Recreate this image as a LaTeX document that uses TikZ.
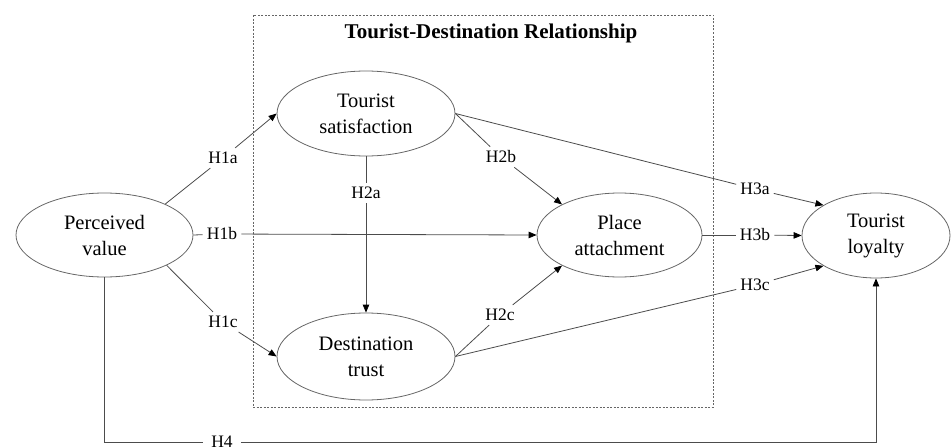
\documentclass[tikz,border=0pt]{standalone}
\usepackage{fontspec}
\setmainfont{Liberation Serif}
\usetikzlibrary{shapes.geometric,arrows.meta}
\tikzset{
  construct/.style={ellipse, draw=black!60, line width=0.8pt, inner sep=0pt, align=center,
    font=\fontsize{20.5}{26}\selectfont},
  hyp/.style={inner sep=4pt, font=\fontsize{17.5}{20}\selectfont},
  link/.style={draw=black!70, line width=0.8pt},
  arr/.style={link, -{Triangle[length=8pt,width=6.5pt,color=black]}},
  group/.style={draw=black!60, line width=0.7pt, dash pattern=on 2pt off 1.5pt}
}
\begin{document}
\begin{tikzpicture}[x=1pt,y=-1pt]
\useasboundingbox (0,0) rectangle (951,447);
% group box
\draw[group] (253,15) rectangle (713,407);
\node[font=\fontsize{21}{24}\selectfont\bfseries] (title) at (491,33) {Tourist-Destination Relationship};
% constructs
\node[construct, minimum width=177pt, minimum height=84pt] (pv) at (104.5,235) {Perceived\\value};
\node[construct, minimum width=178pt, minimum height=85pt] (ts) at (366,113.5) {Tourist\\satisfaction};
\node[construct, minimum width=178pt, minimum height=87pt] (dt) at (366,356.5) {Destination\\trust};
\node[construct, minimum width=165pt, minimum height=84pt] (pa) at (619.5,235) {Place\\attachment};
\node[construct, minimum width=148pt, minimum height=85pt] (tl) at (876,235.5) {Tourist\\loyalty};
% hypothesis labels
\node[hyp] (h1a) at (223,158) {H1a};
\node[hyp] (h1b) at (222,234) {H1b};
\node[hyp] (h1c) at (223,322) {H1c};
\node[hyp] (h2a) at (366,193) {H2a};
\node[hyp] (h2b) at (501,157) {H2b};
\node[hyp] (h2c) at (500,315) {H2c};
\node[hyp] (h3a) at (755,189) {H3a};
\node[hyp] (h3b) at (755,235) {H3b};
\node[hyp] (h3c) at (755,285) {H3c};
\node[hyp, inner xsep=8pt] (h4) at (222,442) {H4};
% connectors
\draw[link] (pv.27) -- (h1a);
\draw[arr] (h1a) -- (ts.west);
\draw[link] (pv.east) -- (h1b);
\draw[arr] (h1b) -- (pa.west);
\draw[link] (pv.-26) -- (h1c);
\draw[arr] (h1c) -- (dt.west);
\draw[link] (ts.south) -- (h2a);
\draw[arr] (h2a) -- (dt.north);
\draw[link] (ts.east) -- (h2b);
\draw[arr] (h2b) -- (pa.152);
\draw[link] (dt.east) -- (h2c);
\draw[arr] (h2c) -- (pa.208);
\draw[link] (ts.east) -- (h3a);
\draw[arr] (h3a) -- (tl.150);
\draw[link] (pa.east) -- (h3b);
\draw[arr] (h3b) -- (tl.west);
\draw[link] (dt.east) -- (h3c);
\draw[arr] (h3c) -- (tl.210);
\draw[link] (pv.south) |- (h4);
\draw[arr] (h4) -| (tl.south);
\end{tikzpicture}
\end{document}
